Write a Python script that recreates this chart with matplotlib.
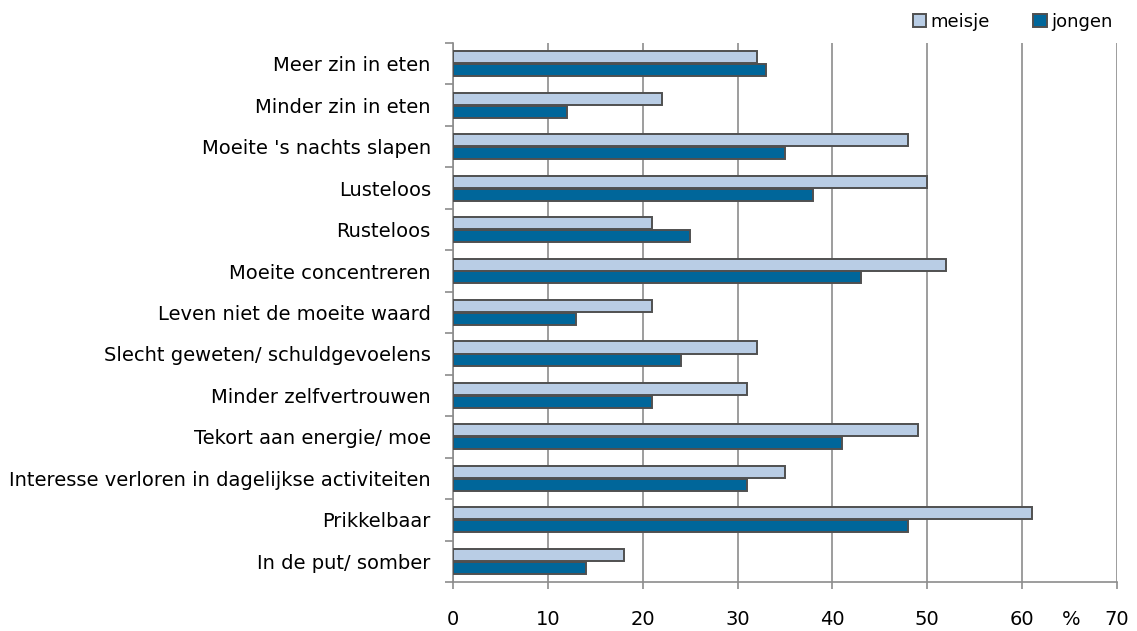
import matplotlib as mpl
import matplotlib.pyplot as plt
import numpy as np

mpl.rcParams['font.family'] = ['DejaVu Sans']

categories = ["Meer zin in eten", "Minder zin in eten", "Moeite 's nachts slapen",
              "Lusteloos", "Rusteloos", "Moeite concentreren",
              "Leven niet de moeite waard", "Slecht geweten/ schuldgevoelens",
              "Minder zelfvertrouwen", "Tekort aan energie/ moe",
              "Interesse verloren in dagelijkse activiteiten", "Prikkelbaar",
              "In de put/ somber"]
meisje = [32, 22, 48, 50, 21, 52, 21, 32, 31, 49, 35, 61, 18]
jongen = [33, 12, 35, 38, 25, 43, 13, 24, 21, 41, 31, 48, 14]
xticks = [0, 10, 20, 30, 40, 50, 60, 70]

c_meisje = '#B9CDE5'
c_jongen = '#00669A'
edge = '#505050'
grid = '#8C8C8C'

fig = plt.figure(figsize=(11.37, 6.31), dpi=100)
ax = fig.add_axes([0.3984, 0.0777, 0.584, 0.8542])

y = np.arange(len(categories))
h = 0.29
ax.barh(y - h / 2 - 0.01, meisje, height=h, color=c_meisje, edgecolor=edge, linewidth=1.4, label='meisje', zorder=3)
ax.barh(y + h / 2 + 0.01, jongen, height=h, color=c_jongen, edgecolor=edge, linewidth=1.4, label='jongen', zorder=3)

ax.set_ylim(len(categories) - 0.5, -0.5)
ax.set_xlim(0, 70)
ax.set_yticks(y)
ax.set_yticklabels(categories, fontsize=14)
ax.tick_params(axis='y', which='major', length=0, pad=16)
ax.set_yticks(np.arange(-0.5, len(categories), 1), minor=True)
ax.tick_params(axis='y', which='minor', length=6, color=grid, width=1.2, direction='out')

ax.set_xticks(xticks)
ax.set_xticklabels([str(v) for v in xticks], fontsize=14)
ax.tick_params(axis='x', length=5, color=grid, width=1.2, pad=15)
ax.grid(axis='x', color=grid, linewidth=1.2, zorder=0)

for s in ['top', 'right']:
    ax.spines[s].set_visible(False)
for s in ['left', 'bottom']:
    ax.spines[s].set_color(grid)
    ax.spines[s].set_linewidth(1.2)

ax.annotate('%', xy=(65.2, 0), xycoords=('data', 'axes fraction'),
            xytext=(0, -20), textcoords='offset points', fontsize=14,
            ha='center', va='top')

leg = fig.legend(loc='upper right', bbox_to_anchor=(0.993, 1.005), ncol=2, frameon=False,
                 fontsize=13, handlelength=0.75, handleheight=0.75, handletextpad=0.25,
                 columnspacing=2.4)

plt.savefig('out.png', dpi=100)
